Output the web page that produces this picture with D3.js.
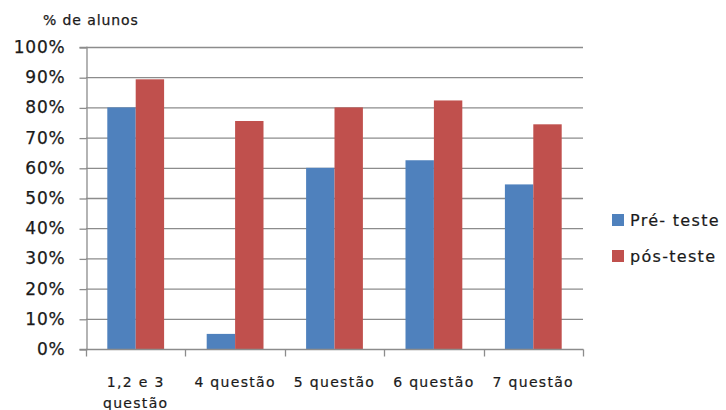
<!DOCTYPE html>
<html>
<head>
<meta charset="utf-8">
<script src="https://cdn.jsdelivr.net/npm/d3@7"></script>
<style>
  html, body { margin: 0; padding: 0; background: #fff; }
  svg { display: block; }
  text { font-family: "DejaVu Sans", Verdana, sans-serif; fill: #1a1a1a; }
</style>
</head>
<body>
<svg id="chart" width="726" height="410"></svg>
<script>
// Question groups along the x axis (second line shown below the first)
const categories = ["1,2 e 3|questão", "4 questão", "5 questão", "6 questão", "7 questão"];
const seriesNames = ["Pré- teste", "pós-teste"];
// Percent of students answering correctly
const preTest  = [80, 5, 60, 62.5, 54.5];
const postTest = [89.3, 75.5, 80, 82.3, 74.4];
const yTicks = [0, 10, 20, 30, 40, 50, 60, 70, 80, 90, 100];
const colors = ["#4F81BD", "#C0504D"];

const svg = d3.select("#chart");
const plot = { left: 86, right: 583, top: 47, bottom: 349 };

const x0 = d3.scaleBand().domain(categories).range([plot.left, plot.right]).padding(0);
const x1 = d3.scaleBand().domain(seriesNames).range([0, x0.bandwidth()])
  .paddingInner(0).paddingOuter(0.75);
const y = d3.scaleLinear().domain([0, 100]).range([plot.bottom, plot.top]);

// Horizontal gridlines
svg.append("g")
  .selectAll("line")
  .data(yTicks.filter(t => t > 0))
  .join("line")
  .attr("x1", plot.left).attr("x2", plot.right)
  .attr("y1", d => y(d) + 0.5).attr("y2", d => y(d) + 0.5)
  .attr("stroke", "#8c8c8c").attr("stroke-width", 1.3);

// Y axis
const yAxis = svg.append("g")
  .attr("transform", `translate(${plot.left + 0.5},0)`)
  .call(d3.axisLeft(y).tickValues(yTicks).tickFormat(d => d + "%").tickSize(7).tickPadding(14));
yAxis.select(".domain").attr("stroke", "#8c8c8c").attr("stroke-width", 1.3);
yAxis.selectAll(".tick line").attr("stroke", "#8c8c8c").attr("stroke-width", 1.3)
  .attr("transform", "translate(0,0.5)");
yAxis.selectAll(".tick text")
  .style("font-size", "17px").style("letter-spacing", "0.8px")
  .attr("fill", "#1a1a1a").attr("stroke", "#1a1a1a").attr("stroke-width", 0.25);

// Bars
const rows = categories.map((c, i) => ({ cat: c, vals: [preTest[i], postTest[i]] }));
const groups = svg.append("g").selectAll("g")
  .data(rows).join("g")
  .attr("transform", d => `translate(${x0(d.cat)},0)`);
groups.selectAll("rect")
  .data(d => d.vals.map((v, j) => ({ name: seriesNames[j], v, j })))
  .join("rect")
  .attr("x", d => x1(d.name))
  .attr("width", x1.bandwidth())
  .attr("y", d => y(d.v))
  .attr("height", d => y(0) - y(d.v))
  .attr("fill", d => colors[d.j]);

// X axis
const xAxis = svg.append("g")
  .attr("transform", `translate(0,${plot.bottom + 0.5})`);
xAxis.append("line")
  .attr("x1", plot.left).attr("x2", plot.right + 0.5)
  .attr("stroke", "#8c8c8c").attr("stroke-width", 1.3);
const bounds = categories.map(c => x0(c)).concat([x0(categories[categories.length - 1]) + x0.bandwidth()]);
xAxis.selectAll("line.tk")
  .data(bounds).join("line").attr("class", "tk")
  .attr("x1", d => Math.round(d) + 0.5).attr("x2", d => Math.round(d) + 0.5)
  .attr("y1", 0).attr("y2", 7)
  .attr("stroke", "#8c8c8c").attr("stroke-width", 1.3);
xAxis.selectAll("text.lbl")
  .data(categories).join("text").attr("class", "lbl")
  .attr("x", d => x0(d) + x0.bandwidth() / 2)
  .attr("y", 37)
  .attr("text-anchor", "middle")
  .style("font-size", "14px").style("letter-spacing", "1.3px")
  .attr("stroke", "#1a1a1a").attr("stroke-width", 0.2)
  .each(function (d) {
    const parts = d.split("|");
    d3.select(this).selectAll("tspan").data(parts).join("tspan")
      .attr("x", x0(d) + x0.bandwidth() / 2)
      .attr("dy", (p, k) => k === 0 ? 0 : 21)
      .text(p => p);
  });

// Axis title
svg.append("text")
  .attr("x", 43).attr("y", 25)
  .style("font-size", "14px").style("letter-spacing", "0.9px")
  .attr("stroke", "#1a1a1a").attr("stroke-width", 0.25)
  .text("% de alunos");

// Legend
const legend = svg.append("g").selectAll("g")
  .data(seriesNames).join("g")
  .attr("transform", (d, i) => `translate(612,${214 + i * 36})`);
legend.append("rect").attr("width", 12).attr("height", 12)
  .attr("fill", (d, i) => colors[i]);
legend.append("text")
  .attr("x", 18).attr("y", 12)
  .style("font-size", "16px").style("letter-spacing", "1.3px")
  .attr("stroke", "#1a1a1a").attr("stroke-width", 0.2)
  .text(d => d);
</script>
</body>
</html>
